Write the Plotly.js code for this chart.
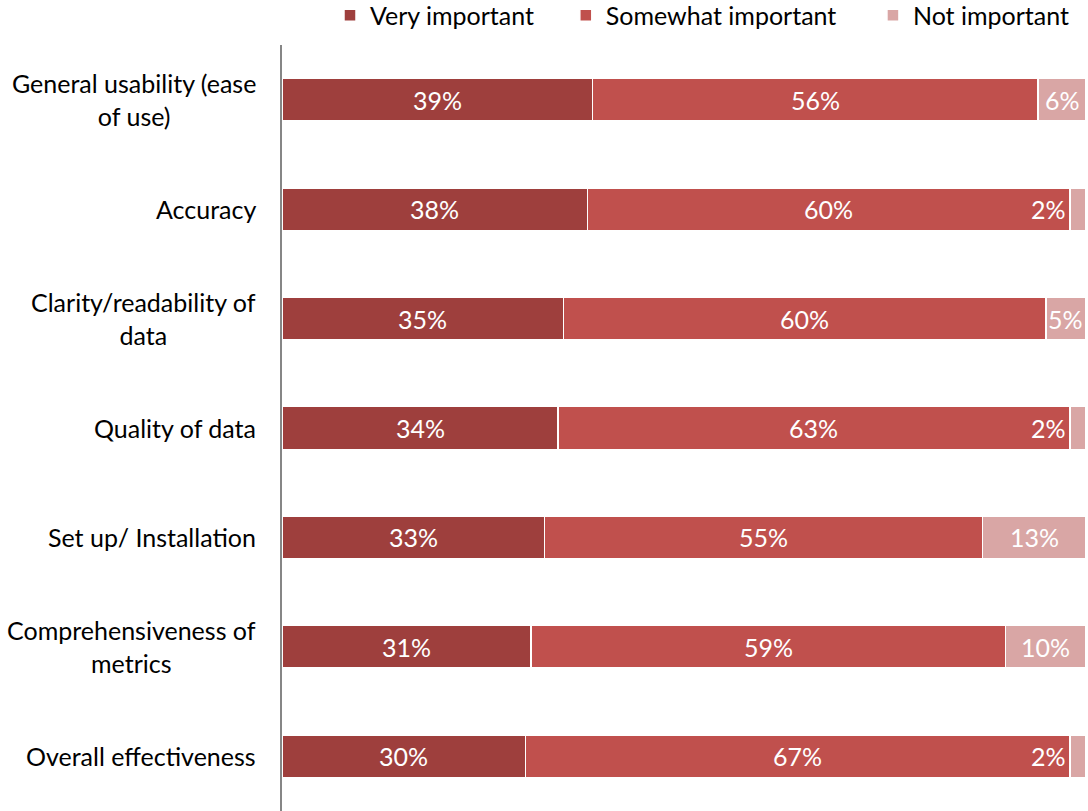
<!DOCTYPE html>
<html>
<head>
<meta charset="utf-8">
<script src="https://cdn.plot.ly/plotly-3.0.1.min.js"></script>
<style>html,body{margin:0;padding:0;background:#fff;}#chart{width:1088px;height:811px;}</style>
</head>
<body>
<div id="chart"></div>
<script>
const categories = [
  "General usability (ease<br>of use)",
  "Accuracy",
  "Clarity/readability of<br>data",
  "Quality of data",
  "Set up/ Installation",
  "Comprehensiveness of<br>metrics",
  "Overall effectiveness"
];
const seriesNames = ["Very important", "Somewhat important", "Not important"];
const veryImportant = [39, 38, 35, 34, 33, 31, 30];
const somewhatImportant = [56, 60, 60, 63, 55, 59, 67];
const notImportant = [6, 2, 5, 2, 13, 10, 2];
const colors = ["#9E3F3D", "#C0504D", "#D9A6A5"];

const FONT = "Lato, 'Open Sans', sans-serif";
const FS = 25;
const seriesValues = [veryImportant, somewhatImportant, notImportant];
const legendIds = ["legend", "legend2", "legend3"];

const traces = seriesValues.map((vals, j) => ({
  type: "bar",
  orientation: "h",
  name: seriesNames[j],
  legend: legendIds[j],
  y: categories,
  x: vals,
  marker: {color: colors[j], line: {color: "#ffffff", width: 1.5}},
  hoverinfo: "x+name",
  textposition: "none"
}));

const annotations = [];
categories.forEach((cat, i) => {
  annotations.push({
    xref: "paper", yref: "y",
    x: 0, y: cat,
    xanchor: "right", yanchor: "middle",
    xshift: -24,
    align: "center",
    text: cat,
    showarrow: false,
    font: {family: FONT, size: FS, color: "#000000"}
  });
  const total = seriesValues.reduce((s, arr) => s + arr[i], 0);
  let cum = 0;
  seriesValues.forEach((arr, j) => {
    const v = arr[i] / total * 100;
    const mid = cum + v / 2;
    cum += v;
    const small = (j === seriesValues.length - 1 && arr[i] < 5);
    annotations.push({
      xref: "x", yref: "y",
      x: small ? 100 : mid,
      y: cat,
      xanchor: small ? "right" : "center",
      xshift: small ? -18 : 0,
      text: arr[i] + "%",
      showarrow: false,
      font: {family: FONT, size: FS, color: "#ffffff"}
    });
  });
});

function legendAt(x) {
  return {
    orientation: "h",
    x: x, xanchor: "left",
    yref: "container",
    y: 0.981, yanchor: "middle",
    font: {family: FONT, size: FS, color: "#000000"},
    itemwidth: 30,
    bgcolor: "rgba(0,0,0,0)"
  };
}

const layout = {
  width: 1088, height: 811,
  margin: {l: 282, r: 2, t: 45, b: 0, autoexpand: false},
  barmode: "stack",
  barnorm: "percent",
  bargap: 0.61,
  paper_bgcolor: "#ffffff",
  plot_bgcolor: "#ffffff",
  font: {family: FONT, size: FS, color: "#000000"},
  showlegend: true,
  legend: legendAt(0.0597),
  legend2: legendAt(0.353),
  legend3: legendAt(0.735),
  xaxis: {
    range: [0, 100],
    visible: false,
    fixedrange: true
  },
  yaxis: {
    autorange: "reversed",
    showline: true,
    linecolor: "#868686",
    linewidth: 2,
    ticks: "",
    showgrid: false,
    zeroline: false,
    showticklabels: false,
    automargin: false
  },
  annotations: annotations
};

Plotly.newPlot("chart", traces, layout, {displayModeBar: false, staticPlot: true});
</script>
</body>
</html>
